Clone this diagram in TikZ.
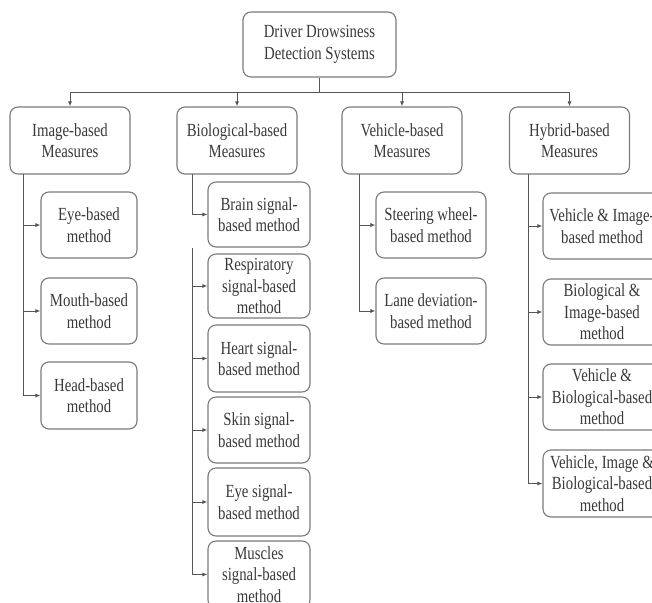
\documentclass[tikz,border=0pt]{standalone}
\usepackage{fontspec}
\setmainfont{Liberation Serif}[FakeStretch=0.8]
\usetikzlibrary{arrows.meta}
\definecolor{txt}{HTML}{3A3A3A}
\definecolor{edge}{HTML}{7A7A7A}
\definecolor{conn}{HTML}{555555}
\tikzset{
  box/.style={draw=edge, line width=1.1pt, rounded corners=8pt, align=center,
    text=txt, font=\fontsize{18.5}{21.5}\selectfont, inner sep=0pt},
  conline/.style={draw=conn, line width=1pt},
  arr/.style={conline, -{Latex[length=5pt,width=4pt]}}
}
\begin{document}
\begin{tikzpicture}[x=1pt,y=-1pt]
\useasboundingbox (0,0) rectangle (652,602);
\clip (0,0) rectangle (652,602);
\fill[white] (0,0) rectangle (652,602);
% top
\node[box, minimum width=153pt, minimum height=65pt] (top) at (319.5,44.5) {Driver Drowsiness\\Detection Systems};
% level 1
\node[box, minimum width=120pt, minimum height=67pt] (img) at (70,140.5) {Image-based\\Measures};
\node[box, minimum width=120pt, minimum height=67pt] (bio) at (237,140.5) {Biological-based\\Measures};
\node[box, minimum width=120pt, minimum height=67pt] (veh) at (402,140.5) {Vehicle-based\\Measures};
\node[box, minimum width=120pt, minimum height=67pt] (hyb) at (569.5,140.5) {Hybrid-based\\Measures};
% image children
\node[box, minimum width=96pt, minimum height=66pt] (eye) at (89,225) {Eye-based\\method};
\node[box, minimum width=96pt, minimum height=66pt] (mouth) at (89,311) {Mouth-based\\method};
\node[box, minimum width=96pt, minimum height=67pt] (head) at (89,395.5) {Head-based\\method};
% bio children
\node[box, minimum width=102pt, minimum height=65pt] (brain) at (259,214.5) {Brain signal-\\based method};
\node[box, minimum width=102pt, minimum height=64pt] (resp) at (259,286) {Respiratory\\signal-based\\method};
\node[box, minimum width=102pt, minimum height=67pt] (heart) at (259,358.5) {Heart signal-\\based method};
\node[box, minimum width=102pt, minimum height=66pt] (skin) at (259,430) {Skin signal-\\based method};
\node[box, minimum width=102pt, minimum height=68pt] (eyes) at (259,502) {Eye signal-\\based method};
\node[box, minimum width=102pt, minimum height=67pt] (musc) at (259,574.5) {Muscles\\signal-based\\method};
% vehicle children
\node[box, minimum width=110pt, minimum height=66pt] (steer) at (431,225) {Steering wheel-\\based method};
\node[box, minimum width=110pt, minimum height=66pt] (lane) at (431,311) {Lane deviation-\\based method};
% hybrid children
\node[box, minimum width=118pt, minimum height=66pt] (vi) at (602,226) {Vehicle \& Image-\\based method};
\node[box, minimum width=118pt, minimum height=66pt] (bi) at (602,312) {Biological \&\\Image-based\\method};
\node[box, minimum width=118pt, minimum height=66pt] (vb) at (602,397) {Vehicle \&\\Biological-based\\method};
\node[box, minimum width=118pt, minimum height=67pt] (vib) at (602,483.5) {Vehicle, Image \&\\Biological-based\\method};
% connectors from top
\draw[conline] (top.south) -- ++(0,15) coordinate (bus);
\draw[arr] (bus) -| (img.north);
\draw[arr] (bus) -| (bio.north);
\draw[arr] (bus) -| (veh.north);
\draw[arr] (bus) -| (hyb.north);
% image trunk
\coordinate (ti) at (23,174);
\draw[arr] (ti) |- (eye.west);
\draw[arr] (ti) |- (mouth.west);
\draw[arr] (ti) |- (head.west);
% bio trunk (with gap as in reference)
\coordinate (tb) at (192,174);
\coordinate (tb2) at (192,248);
\draw[arr] (tb) |- (brain.west);
\draw[arr] (tb2) |- (resp.west);
\draw[arr] (tb2) |- (heart.west);
\draw[arr] (tb2) |- (skin.west);
\draw[arr] (tb2) |- (eyes.west);
\draw[arr] (tb2) |- (musc.west);
% vehicle trunk
\coordinate (tv) at (359,174);
\draw[arr] (tv) |- (steer.west);
\draw[arr] (tv) |- (lane.west);
% hybrid trunk
\coordinate (th) at (528,174);
\draw[arr] (th) |- (vi.west);
\draw[arr] (th) |- (bi.west);
\draw[arr] (th) |- (vb.west);
\draw[arr] (th) |- (vib.west);
\end{tikzpicture}
\end{document}
